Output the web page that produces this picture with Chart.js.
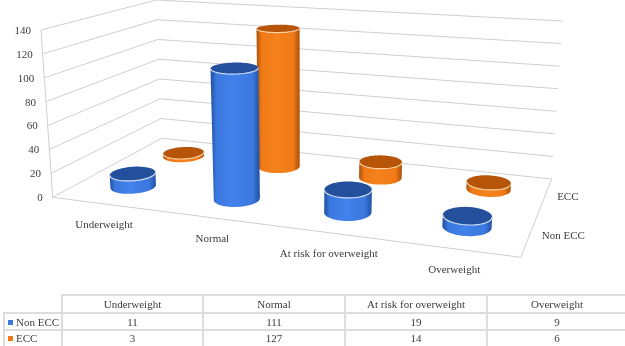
<!DOCTYPE html>
<html>
<head>
<meta charset="utf-8">
<title>Nutritional status by ECC group</title>
<script src="https://cdn.jsdelivr.net/npm/chart.js@4"></script>
<style>
    html, body { margin: 0; padding: 0; background: #fff; overflow: hidden; }
    #wrap { position: absolute; left: 0; top: 0; width: 625px; height: 295px; }
    #dataTable {
        position: absolute; left: 3px; top: 294px; width: 622px;
        border-collapse: collapse; table-layout: fixed;
        font: 11px "Liberation Serif", serif; color: #3c3c3c; text-align: center;
    }
    #dataTable td { border: 2px solid #dddddd; height: 15px; padding: 0; line-height: 14px; }
    #dataTable tr:first-child td { height: 16px; }
    #dataTable tr:last-child td { height: 20px; vertical-align: top; }
    #dataTable tr:first-child td:first-child { border-top: 0; border-left: 0; }
    #dataTable td:last-child { border-right: 0; }
    #dataTable td.name { text-align: left; padding-left: 3px; white-space: nowrap; }
    #dataTable .key { display: inline-block; width: 5px; height: 5px; margin-right: 3px; vertical-align: 1px; }
</style>
</head>
<body>
<div id="wrap"><canvas id="ecc3d" width="625" height="295"></canvas></div>
<table id="dataTable"></table>

<script>
    // ---- data ----
    const categories = ['Underweight', 'Normal', 'At risk for overweight', 'Overweight'];
    const seriesNames = ['Non ECC', 'ECC'];
    const nonEcc = [11, 111, 19, 9];
    const ecc = [3, 127, 14, 6];
    const valueTicks = { min: 0, max: 140, step: 20 };

    // ---- look ----
    const seriesColors = ['#3b78e0', '#f07a16'];
    const sideEdge = ['#20509f', '#a9500a'];
    const sideLight = ['#4282ea', '#f5821c'];
    const capFill = ['#234f9c', '#b65408'];
    const capRim = ['#d5e0f5', '#fbd3a8'];
    const gridColor = '#cfcfcf';
    const textColor = '#3c3c3c';
    const labelFont = '11px "Liberation Serif", serif';

    // floor of the 3D box on screen: front-left, front-right, back-right, back-left
    const floorQuad = [[52.7, 197.3], [520.7, 257.3], [551.7, 179], [161.7, 138.3]];
    // on-screen height of the full value range above those same corners
    const wallHeights = [167.3, 178, 158, 138.3];
    // uprights fan out from a point far below the middle of the chart
    const fanCenterX = 302;
    const fanDistance = 3560;
    const depthRadius = 0.105;

    // unit square -> quad perspective mapping
    function squareToQuad(q) {
        const [x0, y0] = q[0], [x1, y1] = q[1], [x2, y2] = q[2], [x3, y3] = q[3];
        const dx1 = x1 - x2, dx2 = x3 - x2, sx = x0 - x1 + x2 - x3;
        const dy1 = y1 - y2, dy2 = y3 - y2, sy = y0 - y1 + y2 - y3;
        const den = dx1 * dy2 - dx2 * dy1;
        const g = (sx * dy2 - dx2 * sy) / den;
        const h = (dx1 * sy - sx * dy1) / den;
        const a = x1 - x0 + g * x1, b = x3 - x0 + h * x3;
        const d = y1 - y0 + g * y1, e = y3 - y0 + h * y3;
        return function (u, v) {
            const w = g * u + h * v + 1;
            return [(a * u + b * v + x0) / w, (d * u + e * v + y0) / w];
        };
    }
    const floorMap = squareToQuad(floorQuad);

    // u: along categories, v: depth, w: height, all 0..1
    function project(u, v, w) {
        const p = floorMap(u, v);
        const front = wallHeights[0] + (wallHeights[1] - wallHeights[0]) * u;
        const back = wallHeights[3] + (wallHeights[2] - wallHeights[3]) * u;
        const rise = (front + (back - front) * v) * w;
        return [p[0] + (p[0] - fanCenterX) / fanDistance * rise, p[1] - rise];
    }

    function line(ctx, a, b) {
        ctx.beginPath();
        ctx.moveTo(a[0], a[1]);
        ctx.lineTo(b[0], b[1]);
        ctx.stroke();
    }

    function drawWalls(chart) {
        const ctx = chart.ctx, y = chart.scales.y;
        ctx.strokeStyle = gridColor;
        ctx.lineWidth = 1;
        y.ticks.forEach(function (t) {
            const w = (t.value - y.min) / (y.max - y.min);
            line(ctx, project(0, 0, w), project(0, 1, w));
            line(ctx, project(0, 1, w), project(1, 1, w));
        });
        line(ctx, project(0, 0, 0), project(0, 0, 1));
        line(ctx, project(0, 0, 0), project(1, 0, 0));
        line(ctx, project(1, 0, 0), project(1, 1, 0));
    }

    function drawLabels(chart) {
        const ctx = chart.ctx, x = chart.scales.x, y = chart.scales.y;
        ctx.fillStyle = textColor;
        ctx.font = labelFont;
        ctx.textBaseline = 'middle';

        ctx.textAlign = 'right';
        y.ticks.forEach(function (t) {
            const p = project(0, 0, (t.value - y.min) / (y.max - y.min));
            ctx.fillText(t.label, p[0] - 10, p[1] + 1);
        });

        ctx.textAlign = 'center';
        categories.forEach(function (name, i) {
            const u = (x.getPixelForValue(i) - chart.chartArea.left) / chart.chartArea.width;
            const p = project(u, 0, 0);
            ctx.fillText(name, p[0], p[1] + 21);
        });

        ctx.textAlign = 'left';
        seriesNames.forEach(function (name, i) {
            const p = project(1, (i + 0.5) / seriesNames.length, 0);
            ctx.fillText(name, p[0] + 12, p[1] + 2);
        });
    }

    // outline of a circle standing at height w
    function ring(u, v, w, ru) {
        const pts = [];
        for (let k = 0; k < 64; k++) {
            const a = k / 64 * Math.PI * 2;
            pts.push(project(u + ru * Math.cos(a), v + depthRadius * Math.sin(a), w));
        }
        return pts;
    }

    function extremes(pts) {
        let l = 0, r = 0;
        pts.forEach(function (p, k) {
            if (p[0] < pts[l][0]) l = k;
            if (p[0] > pts[r][0]) r = k;
        });
        return [l, r];
    }

    function drawCylinder(ctx, s, u, v, w, ru) {
        const top = ring(u, v, w, ru), base = ring(u, v, 0, ru);
        const te = extremes(top), be = extremes(base);

        // side: down the left, round the near part of the base, back up the right
        const left = Math.min(top[te[0]][0], base[be[0]][0]);
        const right = Math.max(top[te[1]][0], base[be[1]][0]);
        const grad = ctx.createLinearGradient(left, 0, right, 0);
        grad.addColorStop(0, sideEdge[s]);
        grad.addColorStop(0.12, seriesColors[s]);
        grad.addColorStop(0.45, sideLight[s]);
        grad.addColorStop(0.85, seriesColors[s]);
        grad.addColorStop(1, sideEdge[s]);

        ctx.beginPath();
        ctx.moveTo(top[te[0]][0], top[te[0]][1]);
        let k = be[0];
        ctx.lineTo(base[k][0], base[k][1]);
        // step round whichever way runs along the near (lower) arc
        const step = base[(be[0] + 1) % 64][1] > base[be[0]][1] ? 1 : 63;
        while (k !== be[1]) {
            k = (k + step) % 64;
            ctx.lineTo(base[k][0], base[k][1]);
        }
        ctx.lineTo(top[te[1]][0], top[te[1]][1]);
        ctx.closePath();
        ctx.fillStyle = grad;
        ctx.fill();

        // cap
        ctx.beginPath();
        top.forEach(function (p, i) {
            if (i === 0) ctx.moveTo(p[0], p[1]); else ctx.lineTo(p[0], p[1]);
        });
        ctx.closePath();
        ctx.fillStyle = capFill[s];
        ctx.fill();

        // lighter rim on the near edge of the cap
        const tStep = top[(te[0] + 1) % 64][1] > top[te[0]][1] ? 1 : 63;
        ctx.beginPath();
        ctx.moveTo(top[te[0]][0], top[te[0]][1]);
        k = te[0];
        while (k !== te[1]) {
            k = (k + tStep) % 64;
            ctx.lineTo(top[k][0], top[k][1]);
        }
        ctx.strokeStyle = capRim[s];
        ctx.lineWidth = 1.2;
        ctx.stroke();
    }

    // replaces the flat bars: elements keep the positions worked out by the scales
    const cylinderPlugin = {
        id: 'cylinders',
        beforeDatasetsDraw(chart) {
            const area = chart.chartArea, ctx = chart.ctx;
            ctx.save();
            drawWalls(chart);
            drawLabels(chart);
            // back row first so the front row overlaps it
            for (let s = chart.data.datasets.length - 1; s >= 0; s--) {
                const v = (s + 0.5) / chart.data.datasets.length;
                chart.getDatasetMeta(s).data.forEach(function (bar) {
                    const u = (bar.x - area.left) / area.width;
                    const w = (area.bottom - bar.y) / area.height;
                    const ru = bar.width / 2 / area.width;
                    drawCylinder(ctx, s, u, v, w, ru);
                });
            }
            ctx.restore();
            return false;
        }
    };

    const ctxChart = document.getElementById('ecc3d').getContext('2d');
    new Chart(ctxChart, {
        type: 'bar',
        data: {
            labels: categories,
            datasets: [
                { label: seriesNames[0], data: nonEcc, backgroundColor: seriesColors[0] },
                { label: seriesNames[1], data: ecc, backgroundColor: seriesColors[1] }
            ]
        },
        options: {
            responsive: false,
            animation: false,
            events: [],
            grouped: false,
            barPercentage: 0.39,
            categoryPercentage: 1,
            layout: { padding: 0 },
            plugins: { legend: { display: false }, tooltip: { enabled: false } },
            scales: {
                x: { display: false },
                y: {
                    display: false,
                    min: valueTicks.min,
                    max: valueTicks.max,
                    ticks: { stepSize: valueTicks.step }
                }
            }
        },
        plugins: [cylinderPlugin]
    });

    // ---- data table under the chart ----
    const table = document.getElementById('dataTable');
    const colWidths = [58, 141, 142, 142, 139];
    const colgroup = document.createElement('colgroup');
    colWidths.forEach(function (w) {
        const col = document.createElement('col');
        col.style.width = w + 'px';
        colgroup.appendChild(col);
    });
    table.appendChild(colgroup);

    const headRow = table.insertRow();
    headRow.insertCell().textContent = '';
    categories.forEach(function (name) {
        headRow.insertCell().textContent = name;
    });
    [nonEcc, ecc].forEach(function (values, s) {
        const row = table.insertRow();
        const nameCell = row.insertCell();
        nameCell.className = 'name';
        const key = document.createElement('span');
        key.className = 'key';
        key.style.background = seriesColors[s];
        nameCell.appendChild(key);
        nameCell.appendChild(document.createTextNode(seriesNames[s]));
        values.forEach(function (val) {
            row.insertCell().textContent = val;
        });
    });
</script>
</body>
</html>
